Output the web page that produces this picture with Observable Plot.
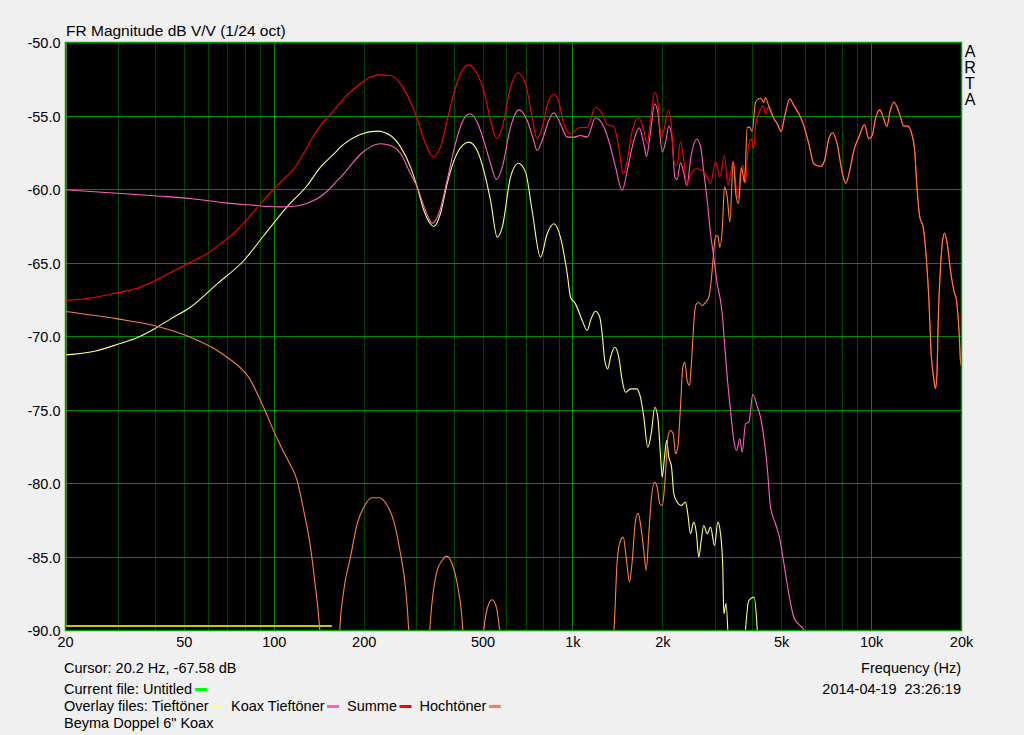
<!DOCTYPE html>
<html>
<head>
<meta charset="utf-8">
<script src="https://cdn.jsdelivr.net/npm/d3@7"></script>
<script src="https://cdn.jsdelivr.net/npm/@observablehq/plot@0.6"></script>
<style>
  html, body { margin: 0; padding: 0; background: #f0f0f0; }
  #chart svg { display: block; }
</style>
</head>
<body>
<div id="chart"></div>
<script>
// ---------- data (frequency Hz, level dB) ----------
const xTicks = [20, 50, 100, 200, 500, 1000, 2000, 5000, 10000, 20000];
const yTicks = [-50, -55, -60, -65, -70, -75, -80, -85, -90];
const minorFreqs = [30, 40, 50, 60, 70, 80, 90, 200, 300, 400, 500, 600, 700, 800, 900,
  2000, 3000, 4000, 5000, 6000, 7000, 8000, 9000];
const majorFreqs = [100, 1000, 10000];

const hfShared = [[5109,-55.08],[5322,-53.83],[5489,-54.29],[5707,-54.85],[5931,-55.65],[6164,-56.89],[6406,-58.25],[6746,-58.44],[6957,-58.03],[7192,-56.55],[7400,-56.14],[7668,-56.89],[7969,-58.82],[8194,-59.57],[8450,-58.71],[8720,-57.35],[9062,-56.44],[9470,-55.6],[9786,-56.55],[10046,-56.33],[10305,-55.19],[10653,-54.58],[10935,-55.08],[11243,-55.71],[11546,-54.63],[11872,-54.06],[12186,-54.42],[12500,-55.08],[12793,-55.67],[13224,-55.69],[13674,-56.33],[13920,-57.23],[14212,-60.07],[14499,-61.88],[14885,-62.56],[15268,-64.83],[15541,-67.33],[15830,-71.18],[16154,-72.88],[16366,-73.54],[16556,-72.45],[16712,-68.91],[17010,-65.29],[17235,-63.69],[17544,-62.97],[17913,-63.69],[18374,-65.51],[18849,-66.87],[19244,-67.55],[19588,-69.37],[19846,-71.63],[20000,-72.0]];

const tieftoener = [[20,-71.25],[25,-71.0],[29.8,-70.54],[35,-70.05],[39.5,-69.5],[45,-68.8],[52.4,-68.01],[64.4,-66.42],[79.1,-64.83],[92.3,-63.13],[110.5,-61.16],[128.9,-59.73],[142.8,-58.48],[158,-57.6],[166.6,-57.12],[194,-56.26],[221,-56.03],[245,-56.33],[265,-57.12],[286,-58.48],[301,-59.84],[317,-61.43],[333,-62.33],[342,-62.52],[360,-61.65],[379,-59.61],[404,-57.8],[426,-57.01],[448,-56.78],[478,-57.35],[503,-58.71],[530,-60.75],[558,-63.24],[580,-62.56],[618,-59.16],[656,-58.21],[694,-58.82],[730,-61.43],[779,-64.61],[820,-63.01],[863,-62.33],[908,-63.24],[957,-65.73],[982,-67.33],[1020,-67.78],[1074,-68.91],[1117,-69.59],[1145,-68.91],[1190,-68.28],[1230,-68.69],[1253,-69.82],[1278,-71.63],[1308,-72.2],[1336,-71.41],[1381,-70.73],[1424,-71.41],[1462,-72.99],[1500,-73.79],[1559,-73.56],[1633,-73.56],[1683,-74.13],[1727,-75.49],[1781,-77.53],[1828,-76.62],[1880,-74.81],[1924,-75.49],[1966,-78.21],[1991,-79.57],[2026,-78.21],[2058,-77.07],[2095,-78.21],[2139,-78.89],[2177,-80.7],[2235,-81.27],[2304,-81.5],[2381,-81.27],[2424,-82.06],[2475,-83.42],[2539,-82.63],[2592,-83.42],[2638,-85.01],[2688,-83.88],[2743,-82.86],[2816,-83.42],[2889,-82.97],[2980,-84.22],[3056,-82.63],[3120,-83.42],[3175,-85.69],[3201,-88.86],[3256,-88.17],[3312,-90.7],[3500,-110],[3783,-90],[3882,-87.96],[4034,-87.73],[4141,-90],[4300,-115]];

const koaxTieftoener = [[20,-60.02],[29.8,-60.25],[39.5,-60.43],[52.4,-60.61],[69.6,-60.93],[87.7,-61.09],[95,-61.16],[105,-61.18],[116.2,-61.14],[128.9,-60.93],[140,-60.6],[150.3,-60.12],[160,-59.55],[170.9,-58.93],[182,-58.25],[194,-57.62],[210,-57.1],[227,-56.89],[245,-57.01],[265,-57.57],[286,-58.93],[301,-59.84],[321,-61.43],[338,-62.29],[355.5,-61.65],[379,-59.39],[404,-56.89],[426,-55.42],[451,-54.85],[478,-55.42],[503,-56.67],[530,-58.25],[555,-59.32],[580,-58.48],[618,-55.76],[659,-54.58],[703,-55.31],[739,-56.67],[759,-57.35],[789,-56.67],[830,-55.31],[863,-54.78],[908,-55.53],[957,-56.44],[1007,-56.44],[1060,-56.33],[1117,-56.44],[1190,-55.12],[1253,-55.53],[1318,-56.67],[1389,-58.48],[1462,-60.07],[1520,-58.71],[1599,-56.67],[1667,-55.8],[1736,-57.12],[1763,-57.76],[1818,-56.12],[1878,-54.17],[1924,-54.74],[1991,-57.46],[2042,-56.78],[2095,-55.69],[2147,-56.5],[2194,-59.16],[2235,-59.32],[2291,-58.16],[2348,-58.82],[2405,-59.73],[2488,-57.69],[2598,-56.58],[2673,-57.04],[2743,-58.82],[2816,-60.75],[2889,-63.01],[2963,-64.61],[3042,-66.42],[3120,-67.55],[3161,-68.46],[3201,-69.82],[3286,-72.77],[3370,-75.03],[3457,-77.07],[3530,-77.75],[3621,-76.96],[3688,-77.87],[3783,-75.94],[3882,-75.83],[4003,-73.95],[4141,-74.76],[4248,-75.49],[4357,-76.85],[4473,-78.89],[4588,-81.61],[4766,-82.74],[4927,-83.76],[5109,-85.69],[5282,-87.5],[5489,-89.1],[5707,-89.59],[5904,-89.88],[6055,-90.4],[6300,-105]];

const summe = [[20,-67.55],[25,-67.35],[29.8,-67.03],[35,-66.7],[39.5,-66.24],[45,-65.65],[52.4,-64.95],[59.6,-64.37],[66,-63.7],[73.2,-62.97],[81,-62.05],[89.9,-60.97],[99.7,-59.95],[108,-59.25],[116.2,-58.59],[125,-57.6],[135.6,-56.33],[146,-55.4],[158,-54.63],[175,-53.6],[194,-52.81],[210,-52.35],[227,-52.2],[245,-52.24],[265,-52.81],[286,-54.06],[301,-55.19],[321,-56.89],[340,-57.76],[360,-57.12],[379,-55.31],[399,-53.49],[420,-52.13],[448,-51.52],[478,-52.13],[503,-53.27],[530,-55.31],[555,-56.51],[580,-55.76],[618,-53.04],[654,-52.06],[694,-52.81],[730,-55.08],[759,-56.55],[789,-55.76],[830,-53.95],[863,-53.54],[897,-54.06],[932,-55.53],[982,-56.21],[1047,-55.8],[1117,-55.76],[1190,-54.4],[1253,-54.85],[1302,-55.58],[1371,-55.71],[1424,-57.12],[1474,-58.93],[1520,-58.03],[1580,-55.99],[1662,-55.12],[1727,-55.99],[1772,-56.89],[1818,-55.31],[1879,-53.38],[1924,-54.06],[1976,-56.44],[2015,-55.99],[2085,-54.63],[2134,-55.53],[2177,-58.03],[2228,-58.37],[2291,-56.78],[2345,-57.8],[2405,-59.66],[2488,-58.93],[2592,-58.59],[2709,-58.71],[2816,-59.16],[2889,-59.61],[3000,-58.14],[3056,-58.59],[3104,-59.16],[3218,-57.69],[3301,-59.73],[3370,-58.93],[3441,-58.03],[3530,-60.07],[3576,-60.61],[3640,-58.71],[3717,-58.37],[3783,-59.61],[3851,-57.35],[3954,-56.55],[4034,-57.23],[4087,-55.65],[4192,-54.85],[4337,-54.29],[4415,-54.85],[4529,-54.35],[4683,-55.08],[4830,-55.53],[4981,-56.05]].concat(hfShared);

const hochtoener = [[20,-68.3],[29.8,-68.8],[39.5,-69.25],[52.4,-70.05],[64.4,-70.95],[71,-71.55],[78.1,-72.25],[83.2,-72.95],[88,-73.95],[93.4,-75.1],[99,-76.3],[104.9,-77.41],[112,-78.55],[119.3,-79.8],[125.5,-81.84],[132.2,-84.33],[137.4,-87.05],[140.9,-89.1],[142.8,-90.7],[153,-120],[165.7,-90],[170.9,-87.28],[180,-85.01],[189.5,-82.74],[199.4,-81.61],[212.7,-80.97],[225,-80.97],[238.9,-81.5],[251,-82.52],[264.7,-84.78],[275,-87.05],[282,-90],[305,-120],[331.6,-90],[351,-85.92],[365,-85.24],[377,-84.94],[394,-85.46],[410,-86.82],[428,-90],[465,-120],[503,-90],[523,-88.18],[537,-87.91],[554,-88.41],[569,-90],[800,-115],[1371,-90],[1407,-85.24],[1443,-83.88],[1474,-83.65],[1512,-85.24],[1547,-86.71],[1580,-85.24],[1620,-82.52],[1654,-82.02],[1683,-82.74],[1727,-84.56],[1759,-85.92],[1795,-83.42],[1828,-81.16],[1875,-79.91],[1915,-80.25],[1954,-81.38],[1991,-81.5],[2026,-80.25],[2058,-78.21],[2079,-76.85],[2122,-76.39],[2167,-76.62],[2206,-77.98],[2245,-77.53],[2291,-74.81],[2333,-72.09],[2369,-71.75],[2413,-72.99],[2456,-73.33],[2488,-72.09],[2527,-69.82],[2553,-68.46],[2592,-67.78],[2638,-67.69],[2709,-67.89],[2780,-67.67],[2851,-67.33],[2904,-66.19],[2951,-64.61],[3000,-63.24],[3056,-63.13],[3104,-63.93],[3161,-62.79],[3218,-59.84],[3286,-60.52],[3352,-62.22],[3441,-58.14],[3516,-60.41],[3585,-60.95],[3668,-58.5],[3754,-59.52],[3834,-55.78],[3902,-55.76],[3985,-56.05],[4087,-54.06],[4248,-53.79],[4357,-54.06],[4415,-53.74],[4529,-54.35],[4683,-55.08],[4830,-55.53],[4981,-56.05]].concat(hfShared);

const currentFile = [[20,-50],[20,-89.7],[155,-89.7]];

const legendItems = [
  {label: "Tieftöner", color: "#ffff80"},
  {label: "Koax Tieftöner", color: "#ff60c0"},
  {label: "Summe", color: "#ff0000"},
  {label: "Hochtöner", color: "#ff8040"}
];

// ---------- chart ----------
const FONT = "'Liberation Sans', Arial, sans-serif";
const lineOpts = (color) => ({x: d => d[0], y: d => d[1], stroke: color, strokeWidth: 1.1, curve: "monotone-x", clip: true});
const fmtFreq = d => d >= 1000 ? (d / 1000) + "k" : String(d);

const chart = Plot.plot({
  width: 1024,
  height: 735,
  marginLeft: 65,
  marginRight: 63,
  marginTop: 42,
  marginBottom: 105,
  style: {background: "#f0f0f0", fontFamily: FONT, fontSize: "14.5px", color: "#000"},
  x: {type: "log", domain: [20, 20000], axis: null},
  y: {domain: [-90, -50], axis: null},
  marks: [
    Plot.frame({fill: "#000"}),
    Plot.ruleX(minorFreqs, {stroke: "#004800", strokeWidth: 1, shapeRendering: "crispEdges"}),
    Plot.ruleX(majorFreqs, {stroke: "#008a00", strokeWidth: 1, shapeRendering: "crispEdges"}),
    Plot.ruleY(yTicks, {stroke: "#008a00", strokeWidth: 1, shapeRendering: "crispEdges"}),
    Plot.line(currentFile, {x: d => d[0], y: d => d[1], stroke: "#c8c800", strokeWidth: 2, clip: true}),
    Plot.line(tieftoener, lineOpts("#ffff80")),
    Plot.line(koaxTieftoener, lineOpts("#ff60c0")),
    Plot.line(summe, lineOpts("#ff0000")),
    Plot.line(hochtoener, lineOpts("#ff8040")),
    Plot.frame({stroke: "#00a000", strokeWidth: 1.5}),
    Plot.text(xTicks, {x: d => d, frameAnchor: "bottom", dy: 16, text: fmtFreq, fontSize: 14.5, fill: "#000"}),
    Plot.text(yTicks, {y: d => d, frameAnchor: "left", dx: -5, dy: 1, textAnchor: "end", text: d => d.toFixed(1), fontSize: 14.5, fill: "#000"})
  ]
});

document.getElementById("chart").appendChild(chart);

// ---------- annotations ----------
const svg = d3.select(chart);
const addText = (txt, x, y, opts = {}) => svg.append("text")
  .attr("x", x).attr("y", y)
  .attr("font-family", FONT)
  .attr("font-size", opts.size || 14.5)
  .attr("text-anchor", opts.anchor || "start")
  .attr("fill", "#000")
  .style("white-space", "pre")
  .text(txt);

addText("FR Magnitude dB V/V (1/24 oct)", 66, 36, {size: 15.5});
["A", "R", "T", "A"].forEach((ch, i) => addText(ch, 970, 57 + i * 16, {size: 16, anchor: "middle"}));

addText("Cursor: 20.2 Hz, -67.58 dB", 64, 673);
addText("Frequency (Hz)", 961, 673, {anchor: "end"});
addText("2014-04-19  23:26:19", 961, 694, {anchor: "end"});

const cur = addText("Current file: Untitled", 64, 694);
let cx = 64 + cur.node().getComputedTextLength() + 3;
svg.append("rect").attr("x", cx).attr("y", 688).attr("width", 12).attr("height", 3).attr("fill", "#00ff00");

let ox = 64;
const ov = addText("Overlay files: ", ox, 711);
ox += ov.node().getComputedTextLength();
legendItems.forEach(item => {
  const t = addText(item.label, ox, 711);
  ox += t.node().getComputedTextLength() + 2.5;
  svg.append("rect").attr("x", ox).attr("y", 705).attr("width", 12).attr("height", 3).attr("fill", item.color);
  ox += 12 + 8;
});
addText("Beyma Doppel 6\" Koax", 64, 728);
</script>
</body>
</html>
